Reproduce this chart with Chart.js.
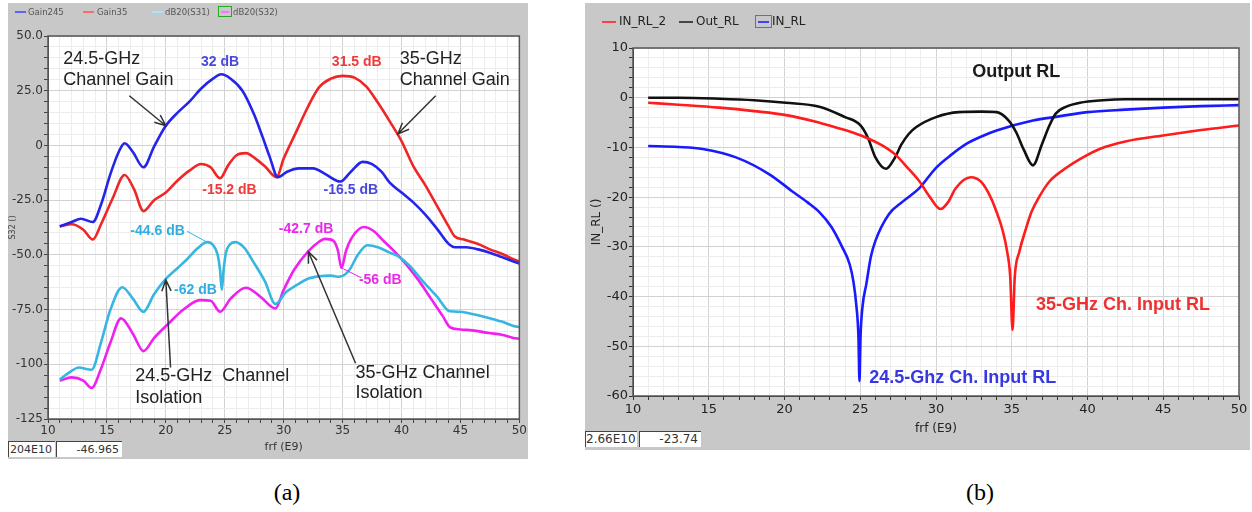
<!DOCTYPE html>
<html>
<head>
<meta charset="utf-8">
<script src="https://cdn.jsdelivr.net/npm/chart.js@4"></script>
<style>
body{margin:0;width:1252px;height:512px;background:#fff;position:relative;overflow:hidden;font-family:"DejaVu Sans",sans-serif}
.panel{position:absolute;background:#c8c8c8}
#pa{left:8px;top:3px;width:520px;height:456px}
#pb{left:585px;top:3px;width:665px;height:447px}
.panel canvas{position:absolute;left:0;top:0}
.lg{position:absolute;white-space:nowrap;line-height:12px}
.sw{position:absolute;height:2px}
.box{position:absolute;border:1px solid #2a2}
.st{position:absolute;background:#fff;border-top:1px solid #444;border-left:1px solid #444;color:#333;text-align:right;box-sizing:border-box;padding-right:3px}
.cap{position:absolute;font-family:"Liberation Serif",serif;font-size:24px;color:#000;transform:translateX(-50%)}
</style>
</head>
<body>
<div class="panel" id="pa"><canvas id="chartA" width="520" height="456"></canvas></div>
<div class="panel" id="pb"><canvas id="chartB" width="665" height="447"></canvas></div>

<!-- legend (a) -->
<div class="sw" style="left:15px;top:11px;width:11px;background:#6060ff"></div>
<div class="lg" style="left:28px;top:6px;font-size:8.5px;color:#555">Gain245</div>
<div class="sw" style="left:83px;top:11px;width:11px;background:#ff6a6a"></div>
<div class="lg" style="left:97px;top:6px;font-size:8.5px;color:#555">Gain35</div>
<div class="sw" style="left:152px;top:11px;width:11px;background:#a8e4ff"></div>
<div class="lg" style="left:165px;top:6px;font-size:8.5px;color:#555">dB20(S31)</div>
<div class="box" style="left:218px;top:6px;width:12px;height:9px"></div>
<div class="sw" style="left:221px;top:11px;width:8px;background:#ff70ff"></div>
<div class="lg" style="left:233px;top:6px;font-size:8.5px;color:#555">dB20(S32)</div>

<!-- legend (b) -->
<div class="sw" style="left:602px;top:21px;width:14px;background:#ff4040"></div>
<div class="lg" style="left:619px;top:15px;font-size:12px;color:#222">IN_RL_2</div>
<div class="sw" style="left:679px;top:21px;width:14px;background:#444"></div>
<div class="lg" style="left:696px;top:15px;font-size:12px;color:#222">Out_RL</div>
<div class="box" style="left:755px;top:15px;width:15px;height:11px"></div>
<div class="sw" style="left:758px;top:21px;width:11px;background:#4040ff"></div>
<div class="lg" style="left:772px;top:15px;font-size:12px;color:#222">IN_RL</div>

<!-- cursor readouts -->
<div class="st" style="left:8px;top:441px;width:47px;height:16px;font-size:11px;line-height:15px">204E10</div>
<div class="st" style="left:56px;top:441px;width:66px;height:16px;font-size:11px;line-height:15px">-46.965</div>
<div class="st" style="left:585px;top:431px;width:52px;height:16px;font-size:12px;line-height:15px">2.66E10</div>
<div class="st" style="left:639px;top:431px;width:62px;height:16px;font-size:12px;line-height:15px">-23.74</div>

<div class="cap" style="left:287px;top:479px">(a)</div>
<div class="cap" style="left:980px;top:479px">(b)</div>

<script>
// ---- panel (a): channel gain / isolation ----
const gainF245 = [11,12,12.8,13.8,14.5,15.3,16,16.5,17.2,18.1,19,20,21,22,23,24,24.7,25.5,26.5,27.5,28.2,28.8,29.5,30.3,31.3,32.5,33.5,34.8,35.7,36.7,37.5,38.3,39,40,41,42,43,44,44.5,45.5,46.5,47.5,48.5,49.5,50];
const gain245 = [-37,-35,-33.5,-35,-27,-13,-3,1,-3,-10,-0.5,9,15,20,26,30.5,32.5,30.5,25,14,4,-5,-14.5,-12,-10.5,-10.5,-13,-16.5,-12,-7.5,-8.5,-12,-17,-21.5,-26,-31.5,-38,-45,-46.5,-46.5,-47.5,-49,-51,-53,-54];

const gainF35 = [11,12,13,13.8,14.5,15.5,16.5,17.3,18.1,19,20,21,22,23,23.8,24.6,25.3,26,26.8,27.6,28.4,29.4,30,31,32,33,34,35,36,37,38,39,40,41,42,43,44,44.5,45.3,46.5,47.5,48.5,49.5,50];
const gain35 = [-37,-36,-38.5,-43,-36,-24,-13.5,-20,-30,-25,-21.5,-16,-11.5,-8.5,-10,-15,-9,-4.5,-3.5,-6,-9.5,-14.5,-6,5.5,17,26.5,30.5,31.8,31,27,19.5,11,2,-9.5,-18,-27.5,-37,-41.5,-43,-45,-47.5,-49.5,-52,-53];

const s31F = [11,12,12.6,13.7,14.5,15.3,16.3,17.2,18.1,19,20,21,21.8,22.7,23.5,24,24.4,24.6,24.75,24.9,25.1,25.4,25.9,26.7,27.4,28.4,29.3,30.2,31.2,32,33,34,34.7,35.2,35.6,36.3,37.1,38,39,39.7,40.7,41.8,43,44.1,45,46,47.4,48.5,49.5,50];
const s31 = [-107,-103,-101.5,-102.5,-90,-75,-64.8,-70,-76,-68,-61,-56,-52,-47,-44.2,-45.5,-50,-57,-66,-57,-49,-45.5,-44.2,-47,-53,-62,-72.5,-67,-63.5,-61,-59.8,-59.5,-60,-59,-56.7,-50,-45.6,-46.5,-49,-50.6,-55,-62,-69,-75.8,-76,-77,-78.8,-80.5,-82.5,-83];

const s32F = [11,12,13,13.7,14.5,15.3,16.2,17.2,18.1,19,20.3,21.5,22.9,23.8,24.6,25.5,26.8,28,29.3,30,30.9,32.1,33,33.5,34.2,34.6,34.9,35.3,35.8,36.8,37.6,38.5,39.5,40.5,41.5,42.5,43.5,44.1,45,46,47.4,48.5,49.5,50];
const s32 = [-107.5,-106,-107.5,-110.8,-102,-90,-79,-86,-94,-88,-81,-75,-70.7,-71,-76,-70,-65,-69,-74.5,-66,-56.7,-48.3,-44,-42.7,-43.5,-48,-56,-48,-42,-37.3,-39,-43.8,-49,-55,-62,-70,-78,-83,-84.1,-84.5,-85.7,-86.5,-88,-88.3];

// ---- panel (b): return loss ----
const outF = [11,13,15.7,18,20.1,22.3,24,25,25.5,26,26.7,27.3,27.7,28.2,28.7,30,31.5,33,34,34.8,35.3,35.8,36.4,37,37.5,37.9,38.6,39.5,41,42.5,45,50];
const outRL = [0,0,-0.2,-0.5,-1,-1.8,-3.9,-5.5,-8,-12,-14.3,-12,-9.5,-7.3,-5.9,-3.9,-2.9,-2.8,-2.9,-4.6,-7,-10.5,-13.6,-9.3,-5.5,-3.2,-1.8,-1,-0.5,-0.3,-0.3,-0.3];

const in2F = [11,13,15.7,18,20.1,22,23.4,24.5,25.6,26.5,27.3,28.1,28.9,29.6,30.3,30.8,31.3,32.3,33,33.6,34,34.4,34.7,34.9,35.05,35.2,35.5,35.9,36.3,36.8,37.5,38.6,39.7,40.8,42.5,45,47.5,50];
const in2RL = [-1,-1.4,-2,-2.7,-3.5,-4.8,-6,-7,-8.3,-9.7,-11.4,-14,-16.8,-20,-22.4,-21,-18.2,-16,-17,-20,-23,-26.7,-31,-36,-46.7,-36,-31,-26.7,-23,-20,-16.8,-14.1,-12,-10.3,-8.8,-7.6,-6.5,-5.6];

const inF = [11,13,14.6,16.8,19,20.5,21.5,22.3,23.1,23.8,24.3,24.55,24.75,24.88,24.95,25.02,25.15,25.4,25.7,26,26.9,27.8,28.9,30,31,32,33,34,36.4,38,40,42.5,45,47.5,50];
const inRL = [-9.7,-9.9,-10.3,-12,-15.4,-18.8,-21,-23,-26,-30,-33.5,-37,-42,-48,-57,-48,-42,-37.5,-32,-28.8,-23.4,-20.9,-18.2,-14.1,-11.5,-9.3,-7.8,-6.6,-4.6,-3.8,-2.9,-2.4,-2,-1.7,-1.5];

function pts(fs, vs) {
    return fs.map((f, i) => ({x: f, y: vs[i]}));
}

function line(label, fs, vs, color) {
    return {
        label: label,
        data: pts(fs, vs),
        borderColor: color,
        borderWidth: 2.6,
        pointRadius: 0,
        fill: false,
        cubicInterpolationMode: 'monotone'
    };
}

// white plot area + frame
const plotBg = {
    id: 'plotBg',
    beforeDraw(chart) {
        const a = chart.chartArea, ctx = chart.ctx;
        ctx.save();
        ctx.fillStyle = '#fff';
        ctx.fillRect(a.left, a.top, a.right - a.left, a.bottom - a.top);
        ctx.restore();
    },
    afterDraw(chart) {
        const a = chart.chartArea, ctx = chart.ctx;
        ctx.save();
        ctx.strokeStyle = '#555';
        ctx.lineWidth = 1.5;
        ctx.strokeRect(a.left, a.top, a.right - a.left, a.bottom - a.top);
        ctx.restore();
    }
};

// labels and arrows in data coordinates
const notes = {
    id: 'notes',
    afterDatasetsDraw(chart, args, opts) {
        const ctx = chart.ctx, x = chart.scales.x, y = chart.scales.y;
        ctx.save();
        (opts.lines || []).forEach(l => {
            const x1 = x.getPixelForValue(l.from[0]), y1 = y.getPixelForValue(l.from[1]);
            const x2 = x.getPixelForValue(l.to[0]), y2 = y.getPixelForValue(l.to[1]);
            ctx.strokeStyle = l.color;
            ctx.lineWidth = l.width || 1.5;
            ctx.beginPath();
            ctx.moveTo(x1, y1);
            ctx.lineTo(x2, y2);
            if (l.head) {
                const ang = Math.atan2(y2 - y1, x2 - x1), h = 12;
                ctx.moveTo(x2 - h * Math.cos(ang - 0.4), y2 - h * Math.sin(ang - 0.4));
                ctx.lineTo(x2, y2);
                ctx.lineTo(x2 - h * Math.cos(ang + 0.4), y2 - h * Math.sin(ang + 0.4));
            }
            ctx.stroke();
        });
        ctx.textBaseline = 'middle';
        (opts.texts || []).forEach(t => {
            ctx.font = t.font;
            ctx.fillStyle = t.color;
            ctx.textAlign = t.align || 'left';
            ctx.fillText(t.text, x.getPixelForValue(t.x), y.getPixelForValue(t.y));
        });
        ctx.restore();
    }
};

const REG = '18px "Liberation Sans", Arial, sans-serif';
const BOLD = 'bold 14px "Liberation Sans", Arial, sans-serif';

const chartA = new Chart(document.getElementById('chartA').getContext('2d'), {
    type: 'line',
    data: {
        datasets: [
            line('Gain245', gainF245, gain245, '#2424ea'),
            line('Gain35', gainF35, gain35, '#f02626'),
            line('dB20(S31)', s31F, s31, '#36b6e0'),
            line('dB20(S32)', s32F, s32, '#f020f0')
        ]
    },
    options: {
        responsive: false,
        animation: false,
        layout: {padding: {top: 33, right: 8, left: 0, bottom: 0}},
        plugins: {
            legend: {display: false},
            tooltip: {enabled: false},
            notes: {
                texts: [
                    {text: '24.5-GHz', x: 11.3, y: 39.4, font: REG, color: '#222'},
                    {text: 'Channel Gain', x: 11.3, y: 29.8, font: REG, color: '#222'},
                    {text: '35-GHz', x: 39.85, y: 39.4, font: REG, color: '#222'},
                    {text: 'Channel Gain', x: 39.85, y: 29.8, font: REG, color: '#222'},
                    {text: '32 dB', x: 24.6, y: 37.9, font: BOLD, color: '#4848dc', align: 'center'},
                    {text: '31.5 dB', x: 36.2, y: 37.9, font: BOLD, color: '#f03a3a', align: 'center'},
                    {text: '-15.2 dB', x: 25.4, y: -20.5, font: BOLD, color: '#f03a3a', align: 'center'},
                    {text: '-16.5 dB', x: 35.7, y: -20.5, font: BOLD, color: '#4848dc', align: 'center'},
                    {text: '-44.6 dB', x: 19.3, y: -39.2, font: BOLD, color: '#30ade0', align: 'center'},
                    {text: '-62 dB', x: 20.7, y: -65.9, font: BOLD, color: '#30ade0'},
                    {text: '-42.7 dB', x: 31.9, y: -38.4, font: BOLD, color: '#e82ae8', align: 'center'},
                    {text: '-56 dB', x: 38.2, y: -61.6, font: BOLD, color: '#e82ae8', align: 'center'},
                    {text: '24.5-GHz  Channel', x: 17.4, y: -105.5, font: REG, color: '#222'},
                    {text: 'Isolation', x: 17.4, y: -115.4, font: REG, color: '#222'},
                    {text: '35-GHz Channel', x: 36.1, y: -104, font: REG, color: '#222'},
                    {text: 'Isolation', x: 36.1, y: -113.1, font: REG, color: '#222'}
                ],
                lines: [
                    {from: [16.9, 22.7], to: [20, 9], color: '#333', head: true},
                    {from: [42.9, 22.7], to: [39.7, 5.3], color: '#333', head: true},
                    {from: [20.4, -101.5], to: [20, -61.5], color: '#333', head: true},
                    {from: [36.1, -99.5], to: [32.1, -48.6], color: '#333', head: true},
                    {from: [21.8, -39.2], to: [23.5, -44.2], color: '#36b6e0', width: 1},
                    {from: [35, -56.2], to: [36.6, -60.5], color: '#f020f0', width: 1}
                ]
            }
        },
        scales: {
            x: {
                type: 'linear', min: 10, max: 50,
                afterFit: s => { s.height = 40; },
                ticks: {
                    stepSize: 1, autoSkip: false, maxRotation: 0, padding: 1,
                    color: '#333', font: {family: 'DejaVu Sans', size: 12},
                    callback: v => v % 5 === 0 ? v : ''
                },
                grid: {
                    color: c => c.tick && c.tick.value % 5 === 0 ? '#d2d2d2' : '#ececec',
                    tickLength: 4, tickColor: '#444'
                },
                border: {color: '#555'},
                title: {display: true, text: 'frf (E9)', color: '#333', font: {family: 'DejaVu Sans', size: 11}, padding: {top: 0, bottom: 5}}
            },
            y: {
                min: -125, max: 50,
                afterFit: s => { s.width = 40; },
                ticks: {
                    stepSize: 5, autoSkip: false, padding: 1,
                    color: '#333', font: {family: 'DejaVu Sans', size: 12},
                    callback: v => v % 25 !== 0 ? '' : (v === 0 ? '0' : (Math.abs(v) >= 100 ? String(v) : v.toFixed(1)))
                },
                grid: {
                    color: c => c.tick && c.tick.value % 25 === 0 ? '#d2d2d2' : '#ececec',
                    tickLength: 4, tickColor: '#444'
                },
                border: {color: '#555'},
                title: {display: true, text: 'S32 ()', color: '#444', font: {family: 'DejaVu Sans', size: 8}, padding: {top: 0, bottom: 0}}
            }
        }
    },
    plugins: [plotBg, notes]
});

const BIG = 'bold 18px "Liberation Sans", Arial, sans-serif';

const chartB = new Chart(document.getElementById('chartB').getContext('2d'), {
    type: 'line',
    data: {
        datasets: [
            line('IN_RL_2', in2F, in2RL, '#ff1c1c'),
            line('Out_RL', outF, outRL, '#111'),
            line('IN_RL', inF, inRL, '#1a1aff')
        ]
    },
    options: {
        responsive: false,
        animation: false,
        layout: {padding: {top: 45, right: 11, left: 0, bottom: 0}},
        plugins: {
            legend: {display: false},
            tooltip: {enabled: false},
            notes: {
                texts: [
                    {text: 'Output RL', x: 35.3, y: 5.2, font: 'bold 18px "Liberation Sans", Arial, sans-serif', color: '#1a1a1a', align: 'center'},
                    {text: '35-GHz Ch. Input RL', x: 36.6, y: -41.7, font: BIG, color: '#f03030'},
                    {text: '24.5-Ghz Ch. Input RL', x: 25.6, y: -56.3, font: BIG, color: '#3838e0'}
                ]
            }
        },
        scales: {
            x: {
                type: 'linear', min: 10, max: 50,
                afterFit: s => { s.height = 54; },
                ticks: {
                    stepSize: 1, autoSkip: false, maxRotation: 0, padding: 2,
                    color: '#222', font: {family: 'DejaVu Sans', size: 13},
                    callback: v => v % 5 === 0 ? v : ''
                },
                grid: {
                    color: c => c.tick && c.tick.value % 5 === 0 ? '#d2d2d2' : '#ececec',
                    tickLength: 4, tickColor: '#333'
                },
                border: {color: '#333'},
                title: {display: true, text: 'frf (E9)', color: '#222', font: {family: 'DejaVu Sans', size: 12}, padding: {top: 0, bottom: 14}}
            },
            y: {
                min: -60, max: 10,
                afterFit: s => { s.width = 48; },
                ticks: {
                    stepSize: 2, autoSkip: false, padding: 1,
                    color: '#222', font: {family: 'DejaVu Sans', size: 13},
                    callback: v => v % 10 === 0 ? v : ''
                },
                grid: {
                    color: c => c.tick && c.tick.value % 10 === 0 ? '#d2d2d2' : '#ececec',
                    tickLength: 4, tickColor: '#333'
                },
                border: {color: '#333'},
                title: {display: true, text: 'IN_RL ()', color: '#222', font: {family: 'DejaVu Sans', size: 12}, padding: {top: 5, bottom: 0}}
            }
        }
    },
    plugins: [plotBg, notes]
});
</script>
</body>
</html>
